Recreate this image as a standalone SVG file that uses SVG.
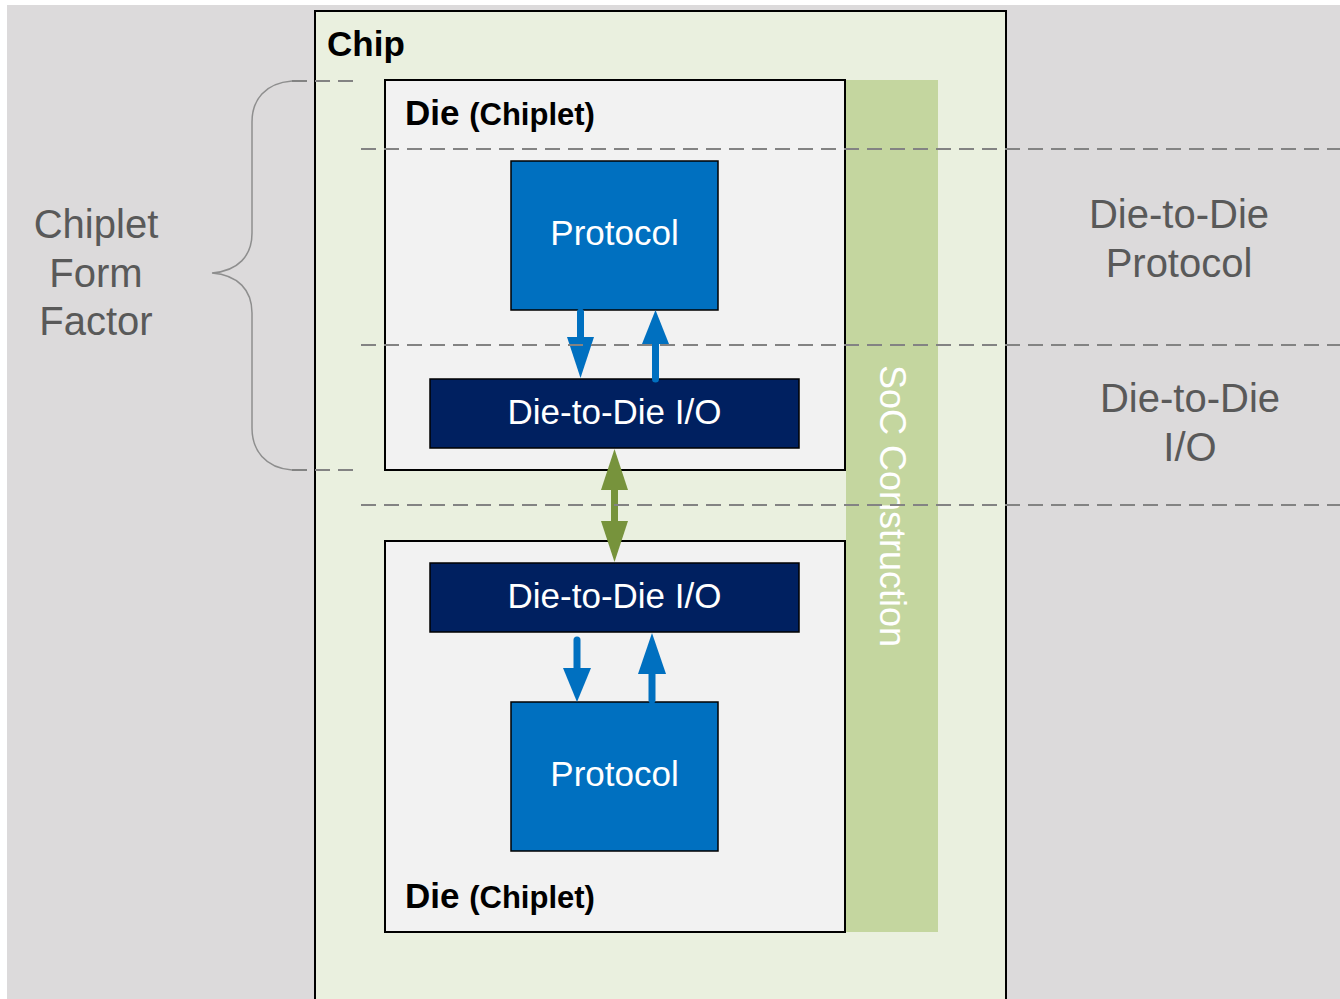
<svg xmlns="http://www.w3.org/2000/svg" width="1340" height="999" viewBox="0 0 1340 999">
  <style>
    .lbl { font-family: "Liberation Sans", Arial, sans-serif; }
    .side { font-size: 40px; fill: #595959; text-anchor: middle; }
    .title { font-weight: bold; fill: #000; }
    .white { fill: #fff; text-anchor: middle; font-size: 35px; }
    .die { fill: #F2F2F2; stroke: #000; stroke-width: 2; }
    .proto { fill: #0070C0; stroke: #000; stroke-width: 1.5; }
    .io { fill: #002060; stroke: #000; stroke-width: 1.5; }
    .guide { stroke: #838383; stroke-width: 2; stroke-dasharray: 15 8; fill: none; }
    .blue { fill: #0070C0; }
    .bshaft { stroke: #0070C0; stroke-width: 7; stroke-linecap: round; }
    .green { fill: #77933C; }
  </style>

  <!-- backdrop -->
  <rect x="0" y="0" width="1340" height="999" fill="#fff"/>
  <rect x="7" y="5" width="1333" height="994" fill="#DCDADB"/>

  <!-- chip outline -->
  <g id="chip">
    <rect x="315" y="11" width="691" height="1000" fill="#EAF0DF" stroke="#000" stroke-width="2"/>
    <text class="lbl title" x="327" y="56" font-size="35">Chip</text>
  </g>

  <!-- SoC construction band -->
  <g id="soc">
    <rect x="846" y="80" width="92" height="852" fill="#C4D69F"/>
    <text class="lbl" transform="translate(880,365) rotate(90)" font-size="36" fill="#fff">SoC Construction</text>
  </g>

  <!-- upper die -->
  <g id="die-top">
    <rect class="die" x="385" y="80" width="460" height="390"/>
    <text class="lbl title" x="405" y="125" font-size="35">Die <tspan font-size="31">(Chiplet)</tspan></text>
  </g>
  <g id="protocol-top">
    <rect class="proto" x="511" y="161" width="207" height="149"/>
    <text class="lbl white" x="614.5" y="245">Protocol</text>
  </g>
  <g id="io-top">
    <rect class="io" x="430" y="379" width="369" height="69"/>
    <text class="lbl white" x="614.5" y="424">Die-to-Die I/O</text>
  </g>

  <!-- lower die -->
  <g id="die-bottom">
    <rect class="die" x="385" y="541" width="460" height="391"/>
    <text class="lbl title" x="405" y="908" font-size="35">Die <tspan font-size="31">(Chiplet)</tspan></text>
  </g>
  <g id="io-bottom">
    <rect class="io" x="430" y="563" width="369" height="69"/>
    <text class="lbl white" x="614.5" y="608">Die-to-Die I/O</text>
  </g>
  <g id="protocol-bottom">
    <rect class="proto" x="511" y="702" width="207" height="149"/>
    <text class="lbl white" x="614.5" y="786">Protocol</text>
  </g>

  <!-- connectors -->
  <g id="connectors">
    <!-- upper die: protocol <-> I/O -->
    <line class="bshaft" x1="580.5" y1="312" x2="580.5" y2="340"/>
    <polygon class="blue" points="567,337 594,337 580.5,378"/>
    <line class="bshaft" x1="655.5" y1="379" x2="655.5" y2="342"/>
    <polygon class="blue" points="642,344 669,344 655.5,310"/>
    <!-- lower die: I/O <-> protocol -->
    <line class="bshaft" x1="577" y1="640" x2="577" y2="670"/>
    <polygon class="blue" points="563,668 591,668 577,702"/>
    <line class="bshaft" x1="652" y1="700" x2="652" y2="672"/>
    <polygon class="blue" points="638,674 666,674 652,633"/>
    <!-- die-to-die link -->
    <rect class="green" x="611" y="488" width="7" height="35"/>
    <polygon class="green" points="614.5,449 601,490 628,490"/>
    <polygon class="green" points="601,521 628,521 614.5,562"/>
  </g>

  <!-- layer guides -->
  <g id="guides">
    <line class="guide" x1="292" y1="81" x2="356" y2="81"/>
    <line class="guide" x1="292" y1="470" x2="356" y2="470"/>
    <line class="guide" x1="361" y1="149" x2="1340" y2="149"/>
    <line class="guide" x1="361" y1="345" x2="1340" y2="345"/>
    <line class="guide" x1="361" y1="505" x2="1340" y2="505"/>
  </g>

  <!-- form factor brace -->
  <g id="brace">
    <path d="M292,81 C265,83 252,100 252,122 L252,233 C252,256 238,271 212,273 C238,275 252,290 252,313 L252,428 C252,450 265,468 292,470" fill="none" stroke="#8E8E8E" stroke-width="1.5"/>
    <text class="lbl side" x="96" y="238">Chiplet</text>
    <text class="lbl side" x="96" y="287">Form</text>
    <text class="lbl side" x="96" y="335">Factor</text>
  </g>

  <!-- layer names -->
  <g id="label-protocol">
    <text class="lbl side" x="1179" y="228">Die-to-Die</text>
    <text class="lbl side" x="1179" y="277">Protocol</text>
  </g>
  <g id="label-io">
    <text class="lbl side" x="1190" y="412">Die-to-Die</text>
    <text class="lbl side" x="1190" y="461">I/O</text>
  </g>
</svg>
